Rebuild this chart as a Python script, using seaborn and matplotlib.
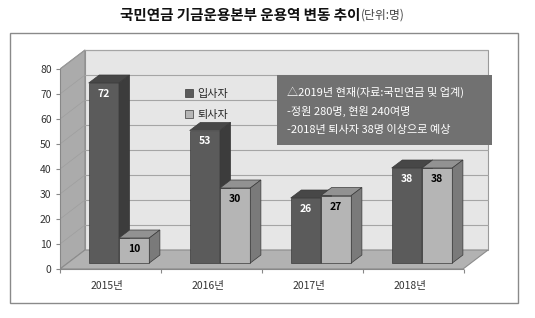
import pandas as pd
import seaborn as sns
import matplotlib.pyplot as plt
from matplotlib.patches import Polygon, Rectangle

# dati
anni = ["2015년", "2016년", "2017년", "2018년"]
entrati = [72, 53, 26, 38]
usciti = [10, 30, 27, 38]
serie = ["입사자", "퇴사자"]
colori = ["#5b5b5b", "#b5b5b5"]
colori_top = ["#474747", "#929292"]
colori_lato = ["#3c3c3c", "#7a7a7a"]
yticks = list(range(0, 81, 10))
note = ["△2019년 현재(자료:국민연금 및 업계)",
        "-정원 280명, 현원 240여명",
        "-2018년 퇴사자 38명 이상으로 예상"]

df = pd.DataFrame({
    "anno": anni * 2,
    "valore": entrati + usciti,
    "serie": [serie[0]] * 4 + [serie[1]] * 4,
})

sns.set_style("white")
plt.rcParams["font.family"] = ["Noto Sans CJK KR", "DejaVu Sans"]

W, H = 535, 318
fig = plt.figure(figsize=(W / 100, H / 100), dpi=100)

# assi: xlim/ylim scelti in modo che 1 unita x = 101 px, 1 unita y = 2.5 px
x_sx, x_dx = -0.584, 3.8
y_giu, y_su = -2.4, 87.5
ax = fig.add_axes([60 / W, (H - 269) / H, (502.8 - 60) / W, (269 - 44.25) / H])
ax.set_facecolor("none")

# profondita (piano frontale -> piano di fondo) in unita dati
px, py = 0.2475, 7.6
fondo_dx = 3.406

# parete di fondo, parete laterale, pavimento
bx0, by0 = x_sx + px, y_giu + py
ax.add_patch(Polygon([(bx0, by0), (fondo_dx + px, by0), (fondo_dx + px, by0 + 80), (bx0, by0 + 80)],
                     closed=True, facecolor="#e6e6e6", edgecolor="#9a9a9a", lw=0.8, zorder=0))
ax.add_patch(Polygon([(x_sx, y_giu), (bx0, by0), (bx0, by0 + 80), (x_sx, y_giu + 80)],
                     closed=True, facecolor="#ababab", edgecolor="#8a8a8a", lw=0.8, zorder=0))
ax.add_patch(Polygon([(x_sx, y_giu), (fondo_dx, y_giu), (fondo_dx + px, by0), (bx0, by0)],
                     closed=True, facecolor="#b2b2b2", edgecolor="#8c8c8c", lw=0.8, zorder=1))
for v in yticks[1:]:
    ax.plot([bx0, fondo_dx + px], [by0 + v, by0 + v], color="#a5a5a5", lw=0.8, zorder=0.5)
    ax.plot([x_sx, bx0], [y_giu + v, by0 + v], color="#9e9e9e", lw=0.5, zorder=0.5)

# barre
sns.barplot(data=df, x="anno", y="valore", hue="serie", hue_order=serie,
            palette=colori, saturation=1, width=0.6, ax=ax,
            edgecolor="#3a3a3a", linewidth=0.5, zorder=3)

dx, dy = 0.105, 3.2
for i, cont in enumerate(ax.containers):
    for bar in cont:
        x0, w, h = bar.get_x(), bar.get_width(), bar.get_height()
        bar.set_zorder(3 + i)
        ax.add_patch(Polygon([(x0, h), (x0 + w, h), (x0 + w + dx, h + dy), (x0 + dx, h + dy)],
                             closed=True, facecolor=colori_top[i], edgecolor="#3a3a3a",
                             lw=0.5, zorder=3 + i))
        ax.add_patch(Polygon([(x0 + w, 0), (x0 + w + dx, dy), (x0 + w + dx, h + dy), (x0 + w, h)],
                             closed=True, facecolor=colori_lato[i], edgecolor="#3a3a3a",
                             lw=0.5, zorder=3 + i))
        ax.text(x0 + w / 2, h - 4.4, f"{h:.0f}", ha="center", va="center",
                fontsize=7.5, fontweight="bold",
                color="white" if i == 0 else "black", zorder=6)

ax.set_xlim(x_sx, x_dx)
ax.set_ylim(y_giu, y_su)

# assi frontali
ax.set_yticks([v + y_giu for v in yticks], labels=[str(v) for v in yticks])
ax.set_xticks([k - 0.12 for k in range(len(anni))], labels=anni)
ax.set_xticks([k + x_sx for k in range(len(anni) + 1)], minor=True)
ax.tick_params(axis="y", direction="out", length=3, width=0.8, color="#888888",
               labelsize=7.5, labelcolor="#333333", pad=3, left=True)
ax.tick_params(axis="x", which="major", length=0, labelsize=7.5, labelcolor="#333333", pad=9)
ax.tick_params(axis="x", which="minor", direction="out", length=3, width=0.8,
               color="#888888", bottom=True)
for s in ["top", "right"]:
    ax.spines[s].set_visible(False)
ax.spines["left"].set_bounds(y_giu, y_giu + 80)
ax.spines["bottom"].set_bounds(x_sx, fondo_dx)
for s in ["left", "bottom"]:
    ax.spines[s].set_color("#888888")
    ax.spines[s].set_linewidth(0.8)
ax.set_xlabel("")
ax.set_ylabel("")

# legenda
handles, labels = ax.get_legend_handles_labels()
ax.legend(handles, labels, loc="upper left", bbox_to_anchor=(175 / W, 1 - 79 / H),
          bbox_transform=fig.transFigure, frameon=False, fontsize=8,
          handlelength=0.7, handleheight=0.7, handletextpad=0.4, labelspacing=0.95)

# riquadro note
fig.patches.append(Rectangle((277 / W, 1 - 145 / H), (492 - 277) / W, 70 / H,
                             transform=fig.transFigure, facecolor="#717171",
                             edgecolor="none", zorder=5))
for j, riga in enumerate(note):
    fig.text(287 / W, 1 - (92 + 19 * j) / H, riga, ha="left", va="center",
             fontsize=8, color="white", zorder=6)

# cornice e titolo
fig.patches.append(Rectangle((10 / W, 1 - 303 / H), 508 / W, 270 / H,
                             transform=fig.transFigure, facecolor="none",
                             edgecolor="#8a8a8a", lw=1, zorder=0))
fig.text(360 / W, 1 - 15 / H, "국민연금 기금운용본부 운용역 변동 추이", ha="right", va="center",
         fontsize=10.5, fontweight="bold", color="#111111")
fig.text(361 / W, 1 - 15 / H, "(단위:명)", ha="left", va="center",
         fontsize=8.5, color="#444444")

fig.savefig("out.png", dpi=100)
